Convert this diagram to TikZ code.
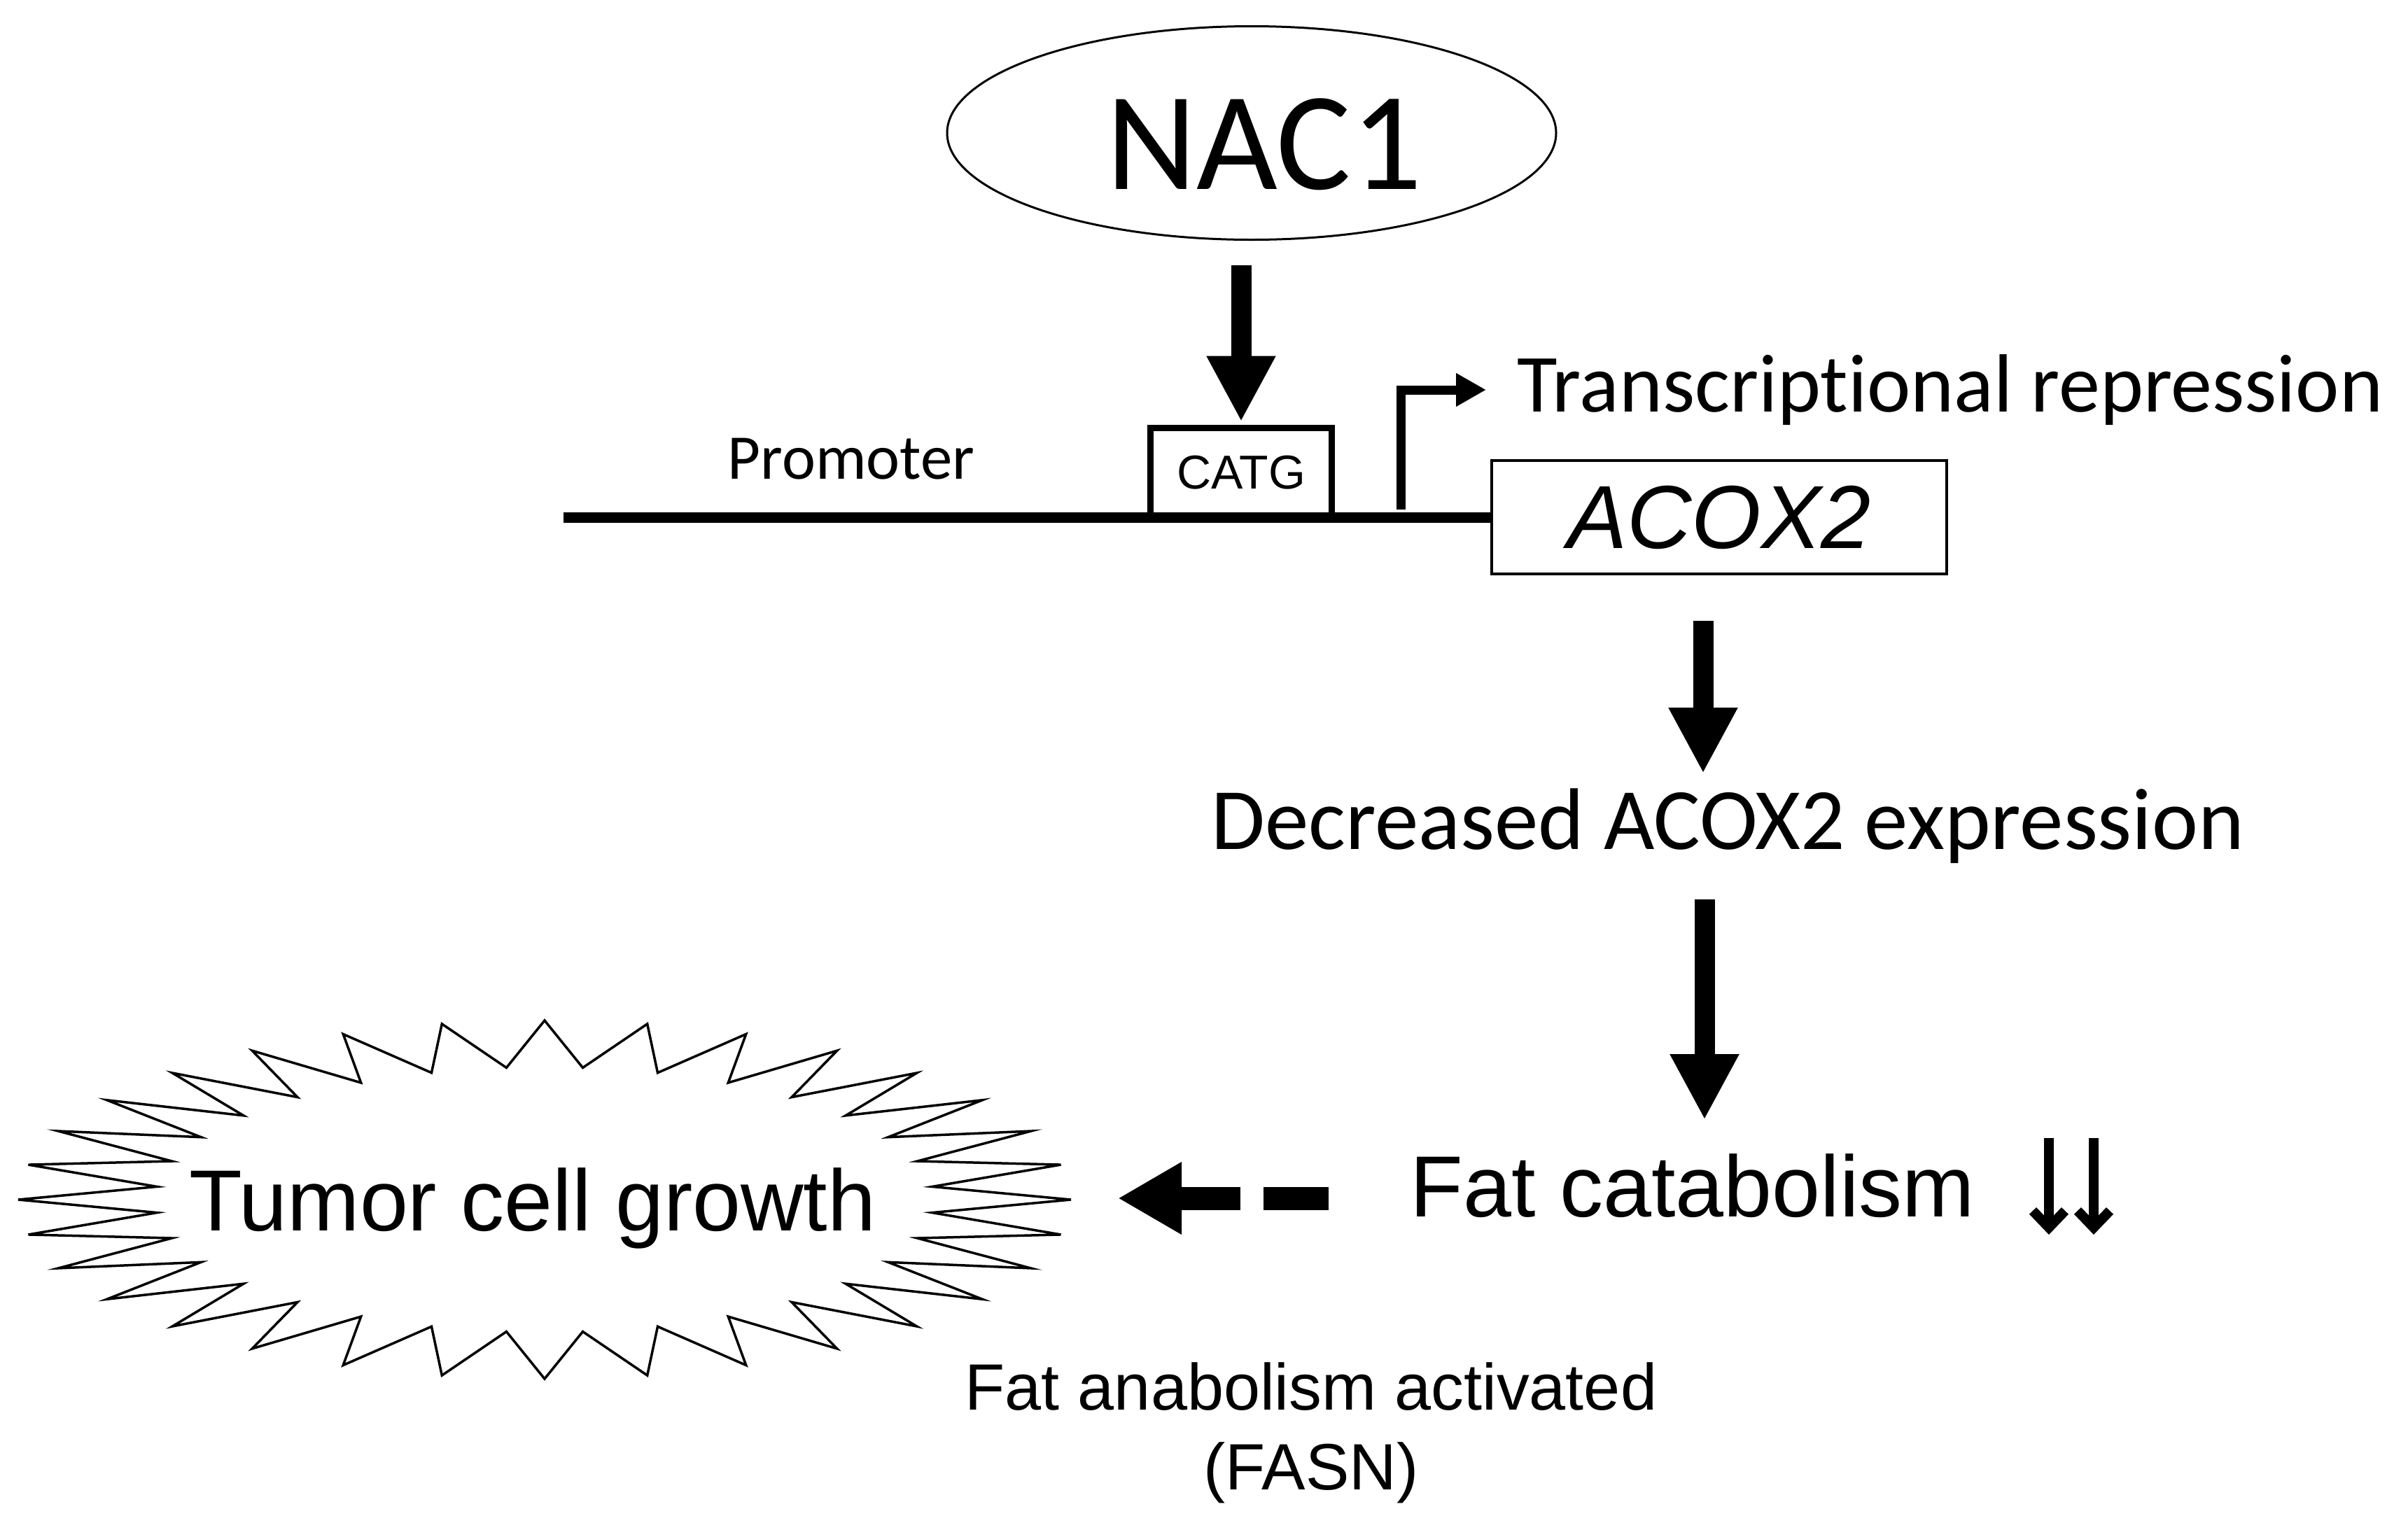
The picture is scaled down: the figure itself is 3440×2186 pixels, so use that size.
\documentclass[tikz,border=0pt]{standalone}
\usepackage{fontspec}
\setmainfont{Carlito}[Ligatures=NoCommon]
\newfontfamily\arialf{Liberation Sans}
\usetikzlibrary{shapes.geometric,arrows.meta}
\begin{document}
\begin{tikzpicture}[x=0.25pt,y=-0.25pt,
  bigarrow/.style={line width=7.25pt,-{Triangle[length=23.5pt,width=23pt]}},
  thinarrow/.style={line width=3.5pt,line join=miter,-{Straight Barb[length=6pt,width=11.5pt]}},
  tssarrow/.style={line width=3.25pt,line join=miter,-{Triangle[length=10.75pt,width=11.25pt]}},
  dasharrow/.style={line width=8.25pt,dash pattern=on 23.25pt off 8.25pt on 100pt,-{Triangle[length=22.75pt,width=24.25pt]}},
  dnaline/.style={line width=3.75pt},
  txt/.style={inner sep=0pt,text=black},
]
\useasboundingbox (0,0) rectangle (3440,2186);
% NAC1
\node[draw,ellipse,line width=0.75pt,minimum width=217.5pt,minimum height=76.25pt,inner sep=0pt] (nac) at (1788,190) {};
\node[txt,anchor=base,font=\fontsize{50pt}{60pt}\selectfont] (nactext) at (1806,270) {NAC1};
% promoter region
\coordinate (dnal) at (805,739);
\node[draw,line width=2.25pt,minimum width=64.75pt,minimum height=32pt,inner sep=0pt,font=\arialf\fontsize{17pt}{20pt}\selectfont] (catg) at (1773,675) {CATG};
\node[draw,line width=1.125pt,minimum width=162.5pt,minimum height=40.5pt,inner sep=0pt,font=\arialf\itshape\fontsize{32pt}{38pt}\selectfont] (acox) at (2456,739) {ACOX2};
\draw[dnaline] (dnal) -- (acox.west);
\node[txt,anchor=base,font=\fontsize{22.75pt}{27pt}\selectfont] (prom) at (1216,684) {Promoter};
\draw[bigarrow,shorten <=8.75pt,shorten >=1pt] (nac.south -| catg.north) -- (catg.north);
% transcription start
\coordinate (tssb) at (2001,728);
\coordinate (tsst) at (2123,557);
\draw[tssarrow] (tssb) |- (tsst);
\node[txt,anchor=base west,font=\fontsize{29.5pt}{35pt}\selectfont] (tr) at (2167,588) {Transcriptional repression};
% decreased expression
\node[txt,anchor=base,font=\fontsize{31.25pt}{37pt}\selectfont] (dec) at (2468,1213) {Decreased ACOX2 expression};
\coordinate (a2s) at (2433,887);
\coordinate (a2e) at (2433,1105);
\draw[bigarrow] (a2s) -- (a2e);
% fat catabolism
\node[txt,anchor=base west,font=\arialf\fontsize{31pt}{37pt}\selectfont] (fat) at (2014,1738) {Fat catabolism};
\coordinate (a3s) at (2435,1285);
\coordinate (a3e) at (2435,1600);
\draw[bigarrow] (a3s) -- (a3e);
\coordinate (d1s) at (2927,1626);
\coordinate (d1e) at (2927,1764);
\coordinate (d2s) at (2991,1626);
\coordinate (d2e) at (2991,1764);
\draw[thinarrow] (d1s) -- (d1e);
\draw[thinarrow] (d2s) -- (d2e);
% tumor growth
\draw[line width=0.875pt,line join=miter] plot[samples at={0,1,...,63},variable=\k]
  ({778+752*(1-0.26*mod(\k,2))*cos(\k*5.625)},{1714+256*(1-0.26*mod(\k,2))*sin(\k*5.625)}) -- cycle;
\node[txt,anchor=base,font=\arialf\fontsize{31pt}{37pt}\selectfont] (tumor) at (761,1758) {Tumor cell growth};
\coordinate (das) at (1898,1712);
\coordinate (dae) at (1597,1712);
\draw[dasharrow] (das) -- (dae);
% anabolism
\node[txt,anchor=north,align=center,font=\arialf\fontsize{23.4pt}{28.5pt}\selectfont] (ana) at (1873,1946) {Fat anabolism activated\\(FASN)};
\end{tikzpicture}
\end{document}
